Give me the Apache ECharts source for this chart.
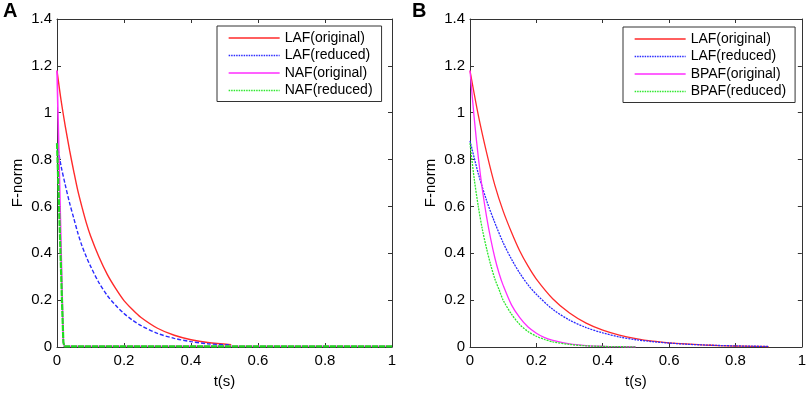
<!DOCTYPE html>
<html>
<head>
<meta charset="utf-8">
<script src="https://cdn.jsdelivr.net/npm/echarts@6/dist/echarts.min.js"></script>
<style>
html,body{margin:0;padding:0;background:#fff;}
#chart{width:809px;height:394px;}
</style>
</head>
<body>
<div id="chart"></div>
<script>
// ---- Data ----
const xTicks = [0, 0.2, 0.4, 0.6, 0.8, 1];
const yTicks = [0, 0.2, 0.4, 0.6, 0.8, 1, 1.2, 1.4];

// Panel A
const tA_LAF = [0, 0.0125, 0.025, 0.0375, 0.05, 0.0625, 0.075, 0.0875, 0.1, 0.125, 0.15, 0.175, 0.2, 0.225, 0.25, 0.3, 0.35, 0.4, 0.45, 0.52];
const A_LAF_original = [1.18, 1.05, 0.94, 0.84, 0.75, 0.665, 0.595, 0.53, 0.475, 0.385, 0.31, 0.25, 0.198, 0.16, 0.127, 0.08, 0.05, 0.031, 0.019, 0.01];
const A_LAF_reduced = [0.87, 0.77, 0.69, 0.615, 0.55, 0.485, 0.43, 0.385, 0.345, 0.275, 0.22, 0.178, 0.143, 0.115, 0.092, 0.058, 0.037, 0.023, 0.014, 0.008];
const tA_NAF = [0, 0.005, 0.01, 0.015, 0.019, 0.022, 1];
const A_NAF_original = [1.18, 0.87, 0.56, 0.25, 0.02, 0.003, 0.003];
const A_NAF_reduced = [0.87, 0.65, 0.42, 0.19, 0.02, 0.003, 0.003];

// Panel B
const tB_LAF = [0, 0.025, 0.05, 0.075, 0.1, 0.125, 0.15, 0.175, 0.2, 0.25, 0.3, 0.35, 0.4, 0.45, 0.5, 0.55, 0.6, 0.65, 0.7, 0.75, 0.8, 0.85, 0.9];
const B_LAF_original = [1.18, 0.99, 0.83, 0.69, 0.58, 0.49, 0.41, 0.345, 0.29, 0.205, 0.145, 0.102, 0.072, 0.051, 0.036, 0.025, 0.018, 0.013, 0.009, 0.006, 0.004, 0.003, 0.002];
const B_LAF_reduced = [0.88, 0.74, 0.625, 0.53, 0.445, 0.375, 0.315, 0.265, 0.225, 0.16, 0.115, 0.083, 0.06, 0.043, 0.031, 0.023, 0.017, 0.012, 0.009, 0.0065, 0.0047, 0.0034, 0.0025];
const tB_BPAF = [0, 0.0125, 0.025, 0.0375, 0.05, 0.0625, 0.075, 0.0875, 0.1, 0.125, 0.15, 0.175, 0.2, 0.225, 0.25, 0.3, 0.35, 0.4, 0.45, 0.5];
const B_BPAF_original = [1.18, 0.98, 0.81, 0.67, 0.555, 0.46, 0.38, 0.315, 0.263, 0.18, 0.125, 0.085, 0.059, 0.04, 0.028, 0.013, 0.006, 0.003, 0.0015, 0.0007];
const B_BPAF_reduced = [0.87, 0.72, 0.60, 0.50, 0.42, 0.35, 0.29, 0.245, 0.20, 0.14, 0.096, 0.066, 0.046, 0.032, 0.022, 0.011, 0.005, 0.0025, 0.0012, 0.0006];

const legendA = ['LAF(original)', 'LAF(reduced)', 'NAF(original)', 'NAF(reduced)'];
const legendB = ['LAF(original)', 'LAF(reduced)', 'BPAF(original)', 'BPAF(reduced)'];

// ---- Styles ----
const FONT = 'Liberation Sans, Arial, Helvetica, sans-serif';
const RED = '#ff2a2a', BLUE = '#2b2bff', MAG = '#ff2cff', GREEN = '#2ee82e';
const AXC = '#333333';

function pairs(t, v) { return t.map((x, i) => [x, v[i]]); }

function xAx(grid, pos, showLabel) {
  return {
    type: 'value', gridIndex: grid, position: pos, min: 0, max: 1, interval: 0.2,
    axisLine: { show: true, onZero: false, lineStyle: { color: AXC, width: 1 } },
    axisTick: { show: true, inside: true, length: 4, lineStyle: { color: AXC } },
    axisLabel: { show: showLabel, color: '#000', fontSize: 15, fontFamily: FONT, margin: 6 },
    splitLine: { show: false },
    name: showLabel ? 't(s)' : '', nameLocation: 'middle', nameGap: 27,
    nameTextStyle: { color: '#000', fontSize: 15, fontFamily: FONT }
  };
}
function yAx(grid, pos, showLabel) {
  return {
    type: 'value', gridIndex: grid, position: pos, min: 0, max: 1.4, interval: 0.2,
    axisLine: { show: true, onZero: false, lineStyle: { color: AXC, width: 1 } },
    axisTick: { show: true, inside: true, length: 4, lineStyle: { color: AXC } },
    axisLabel: { show: showLabel, color: '#000', fontSize: 15, fontFamily: FONT, margin: 5 },
    splitLine: { show: false },
    name: showLabel ? 'F-norm' : '', nameLocation: 'middle', nameGap: 32,
    nameTextStyle: { color: '#000', fontSize: 15, fontFamily: FONT }
  };
}
function line(name, data, xi, yi, color, type, width, smooth) {
  return {
    type: 'line', name: name, data: data, xAxisIndex: xi, yAxisIndex: yi,
    symbol: 'none', showSymbol: false, smooth: smooth,
    animation: false, silent: true,
    lineStyle: { color: color, type: type, width: width },
    itemStyle: { color: color }
  };
}
function legendItems(names, styles) {
  return names.map((n, i) => ({ name: n, lineStyle: styles[i] }));
}
function legend(left, top, names, styles, padR) {
  return {
    orient: 'vertical', left: left, top: top,
    data: legendItems(names, styles),
    itemWidth: 51, itemHeight: 14, itemGap: 3.5,
    padding: [5, padR, 4, 11],
    backgroundColor: '#fff', borderColor: '#333', borderWidth: 1, borderRadius: 0,
    selectedMode: false,
    itemStyle: { opacity: 0 },
    textStyle: { color: '#000', fontSize: 14, fontFamily: FONT, padding: [0, 0, 0, 0] }
  };
}

const chart = echarts.init(document.getElementById('chart'), null, { renderer: 'canvas' });
chart.setOption({
  backgroundColor: '#fff',
  animation: false,
  textStyle: { fontFamily: FONT },
  graphic: [
    { type: 'text', left: 3, top: 1, style: { text: 'A', font: 'bold 20px ' + FONT, fill: '#000' } },
    { type: 'text', left: 412, top: 1, style: { text: 'B', font: 'bold 20px ' + FONT, fill: '#000' } }
  ],
  grid: [
    { left: 57, top: 19, width: 335, height: 330, show: false },
    { left: 470, top: 19, width: 335, height: 330, show: false }
  ],
  xAxis: [xAx(0, 'bottom', true), xAx(0, 'top', false), xAx(1, 'bottom', true), xAx(1, 'top', false)],
  yAxis: [yAx(0, 'left', true), yAx(0, 'right', false), yAx(1, 'left', true), yAx(1, 'right', false)],
  legend: [
    legend(217, 26, legendA, [
      { color: RED, type: 'solid', width: 1.3 },
      { color: BLUE, type: [1.5, 1], width: 1.3 },
      { color: MAG, type: 'solid', width: 1.3 },
      { color: GREEN, type: [1.5, 1], width: 1.3 }
    ], 9),
    legend(623, 27, legendB, [
      { color: RED, type: 'solid', width: 1.3 },
      { color: BLUE, type: [1.5, 1], width: 1.3 },
      { color: MAG, type: 'solid', width: 1.3 },
      { color: GREEN, type: [1.5, 1], width: 1.3 }
    ], 9)
  ],
  series: [
    line('LAF(original)', pairs(tA_LAF, A_LAF_original), 0, 0, RED, 'solid', 1.4, 0.3),
    line('LAF(reduced)', pairs(tA_LAF, A_LAF_reduced), 0, 0, BLUE, [4, 2], 1.4, 0.3),
    line('NAF(original)', pairs(tA_NAF, A_NAF_original), 0, 0, MAG, 'solid', 1.6, false),
    line('NAF(reduced)', pairs(tA_NAF, A_NAF_reduced), 0, 0, '#1fdc1f', [6, 1], 2.2, false),
    line('LAF(original)', pairs(tB_LAF, B_LAF_original), 2, 2, RED, 'solid', 1.3, 0.3),
    line('LAF(reduced)', pairs(tB_LAF, B_LAF_reduced), 2, 2, BLUE, [2, 1], 1.3, 0.3),
    line('BPAF(original)', pairs(tB_BPAF, B_BPAF_original), 2, 2, MAG, 'solid', 1.3, 0.3),
    line('BPAF(reduced)', pairs(tB_BPAF, B_BPAF_reduced), 2, 2, GREEN, [2, 1], 1.3, 0.3)
  ]
});
</script>
</body>
</html>
